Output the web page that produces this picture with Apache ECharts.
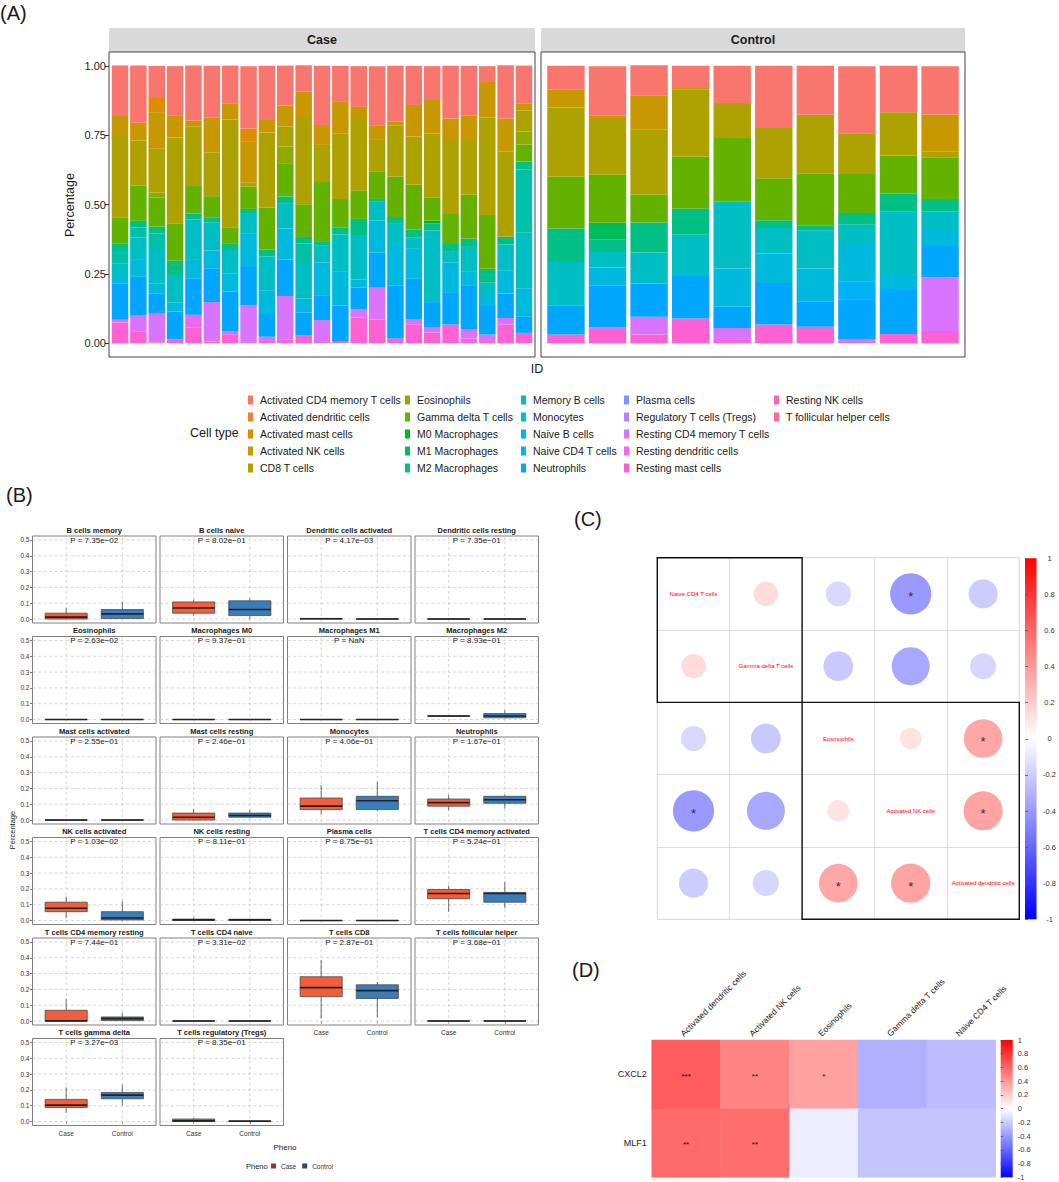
<!DOCTYPE html>
<html><head><meta charset="utf-8">
<script src="https://cdn.jsdelivr.net/npm/echarts@6/dist/echarts.min.js"></script>
<style>html,body{margin:0;padding:0;background:#fff}#c{width:1059px;height:1182px}</style>
</head><body><div id="c"></div>
<script>
// ================= DATA =================
// ---- Panel A: cell type fractions (23 Case samples then 10 Control samples) ----
const cellTypes = ['Activated CD4 memory T cells','Activated dendritic cells','Activated mast cells','Activated NK cells','CD8 T cells',
  'Eosinophils','Gamma delta T cells','M0 Macrophages','M1 Macrophages','M2 Macrophages',
  'Memory B cells','Monocytes','Naive B cells','Naive CD4 T cells','Neutrophils',
  'Plasma cells','Regulatory T cells (Tregs)','Resting CD4 memory T cells','Resting dendritic cells','Resting mast cells',
  'Resting NK cells','T follicular helper cells'];
const caseIds = ['S01','S02','S03','S04','S05','S06','S07','S08','S09','S10','S11','S12','S13','S14','S15','S16','S17','S18','S19','S20','S21','S22','S23'];
const ctrlIds = ['N01','N02','N03','N04','N05','N06','N07','N08','N09','N10'];
const actCD4 = [0.182,0.206,0.116,0.177,0.198,0.186,0.138,0.225,0.192,0.144,0.094,0.213,0.130,0.147,0.213,0.200,0.141,0.122,0.190,0.180,0.054,0.192,0.138, 0.084,0.177,0.108,0.080,0.134,0.224,0.176,0.242,0.167,0.174];
const actDC   = [0,0,0,0,0,0,0,0,0,0,0,0,0,0,0,0,0,0,0,0,0,0,0, 0,0,0,0,0,0,0,0,0,0];
const actMast = [0,0,0.051,0,0,0,0,0.048,0,0,0,0,0,0,0,0,0,0,0,0,0,0,0, 0,0,0,0,0,0,0,0,0,0];
const actNK  = [0.072,0.064,0.132,0.080,0.022,0.126,0.057,0.146,0.048,0.076,0.096,0.072,0.113,0.044,0.050,0.016,0.114,0.121,0.074,0.084,0.132,0.120,0.024, 0.066,0.014,0.124,0.004,0,0,0,0,0,0.135];
const cd8    = [0.293,0.162,0.158,0.311,0.214,0.158,0.388,0.016,0.272,0.072,0.311,0.134,0.237,0.258,0.116,0.183,0.173,0.230,0.267,0.201,0.351,0.306,0.076, 0.249,0.201,0.234,0.243,0.126,0.181,0.213,0.147,0.156,0.020];
const eos    = [0,0,0.018,0,0,0,0,0,0,0.060,0,0,0,0,0,0,0,0,0,0,0,0,0.047, 0,0,0,0,0,0,0,0,0,0];
const gdT    = [0.096,0.128,0.105,0.134,0.099,0.078,0.060,0.080,0.150,0.120,0.118,0.213,0.102,0.102,0.100,0.146,0.162,0.084,0.108,0.158,0.194,0,0.061, 0.188,0.173,0.101,0.188,0.228,0.152,0.186,0.141,0.138,0.150];
const m0     = [0,0,0,0,0,0,0,0,0,0,0,0,0,0,0,0,0,0.010,0,0,0,0,0, 0,0,0,0,0,0,0,0,0,0];
const m1     = [0,0,0,0,0,0,0,0,0,0,0,0,0,0,0,0,0,0,0,0,0,0,0, 0,0.061,0,0,0,0,0,0,0,0];
const m2     = [0.022,0.024,0.024,0.051,0.022,0.016,0.022,0.018,0.025,0.024,0.024,0.017,0.026,0.058,0.008,0.022,0.030,0.026,0.029,0.030,0.050,0.028,0.029, 0.120,0.044,0.108,0.094,0,0.028,0.018,0.042,0.065,0.044];
const memB   = [0.050,0.036,0.060,0,0,0,0,0,0,0,0.070,0,0,0,0,0,0,0,0,0,0,0,0.228, 0,0,0,0,0,0,0,0,0,0];
const mono   = [0.040,0.078,0.120,0.100,0.146,0.102,0.084,0.072,0.122,0.092,0.128,0.060,0.135,0.160,0.070,0.072,0.040,0.258,0.042,0.090,0.048,0.095,0.200, 0.156,0.056,0.112,0.149,0.243,0.092,0.138,0.066,0.225,0.064];
const naiveB = [0.030,0.064,0.038,0.032,0.066,0.066,0.066,0.116,0.086,0.112,0.050,0.118,0.122,0.030,0.116,0.152,0.108,0,0.106,0.048,0.036,0.082,0.103, 0,0.064,0,0,0.138,0.106,0.118,0.138,0.054,0.062];
const naiveCD4 = [0,0,0,0,0,0,0,0,0,0,0,0,0,0,0,0,0,0,0,0,0,0,0, 0,0,0,0,0,0,0,0.065,0,0];
const neut   = [0.132,0.138,0.072,0.100,0.132,0.120,0.144,0.141,0.082,0.131,0.082,0.090,0.130,0.078,0.126,0.192,0.147,0.090,0.117,0.158,0.103,0.088,0.058, 0.106,0.152,0.120,0.153,0.076,0.150,0.092,0.144,0.162,0.112];
const plasma = [0,0,0,0,0,0,0,0,0,0,0,0,0,0,0,0,0,0,0,0,0,0,0, 0,0,0,0,0,0,0,0,0,0];
const tregs  = [0,0,0,0,0,0,0,0,0,0,0,0,0,0,0,0,0,0,0,0,0,0,0, 0,0,0,0,0,0,0,0,0,0];
const restCD4 = [0.010,0.058,0.103,0,0,0.142,0.012,0.137,0.012,0.156,0,0.083,0,0.030,0.115,0,0.017,0.020,0,0.034,0.020,0.024,0, 0,0.010,0.064,0,0.044,0,0,0.014,0,0.194];
const restDC = [0,0,0,0,0.045,0,0,0,0,0,0,0,0,0,0,0,0,0,0,0,0,0,0, 0,0,0,0,0,0,0,0,0,0];
const restMast = [0.074,0.043,0,0.014,0.057,0,0.030,0,0.011,0.014,0.029,0,0,0.092,0.085,0.017,0.068,0.038,0.067,0.017,0.011,0.067,0.037, 0.031,0.047,0.031,0.089,0.011,0.067,0.059,0,0.033,0.044];
const restNK = [0,0,0,0,0,0,0,0,0,0,0,0,0,0,0,0,0,0,0,0,0,0,0, 0,0,0,0,0,0,0,0,0,0];
const tfh    = [0,0,0.003,0,0,0.006,0,0,0,0,0,0,0.005,0,0,0,0,0,0,0,0,0,0, 0,0,0,0,0,0,0,0,0,0];
const aValues = [actCD4,actDC,actMast,actNK,cd8,eos,gdT,m0,m1,m2,memB,mono,naiveB,naiveCD4,neut,plasma,tregs,restCD4,restDC,restMast,restNK,tfh];
const aYTicks = [0,0.25,0.5,0.75,1];

// ---- Panel B: boxplots [min, q1, median, q3, max] ----
const bNames = ['B cells memory','B cells naive','Dendritic cells activated','Dendritic cells resting',
  'Eosinophils','Macrophages M0','Macrophages M1','Macrophages M2',
  'Mast cells activated','Mast cells resting','Monocytes','Neutrophils',
  'NK cells activated','NK cells resting','Plasma cells','T cells CD4 memory activated',
  'T cells CD4 memory resting','T cells CD4 naive','T cells CD8','T cells follicular helper',
  'T cells gamma delta','T cells regulatory (Tregs)'];
const bPvals = ['7.35e\u221202','8.02e\u221201','4.17e\u221203','7.35e\u221201','2.63e\u221202','9.37e\u221201','NaN','8.93e\u221201',
  '2.55e\u221201','2.46e\u221201','4.06e\u221201','1.67e\u221201','1.03e\u221202','8.11e\u221201','8.75e\u221201','5.24e\u221201',
  '7.44e\u221201','3.31e\u221202','2.87e\u221201','3.68e\u221201','3.27e\u221203','8.35e\u221201'];
const caseBox = [[0,0,0.012,0.037,0.072],[0.022,0.037,0.070,0.108,0.123],[0,0,0.002,0.004,0.006],[0,0,0,0,0],
  [0,0,0,0,0],[0,0,0,0,0],[0,0,0,0,0],[0.020,0.021,0.022,0.023,0.024],
  [0,0,0,0,0],[0,0,0.018,0.044,0.069],[0.035,0.066,0.088,0.139,0.221],[0.062,0.088,0.110,0.133,0.160],
  [0.016,0.056,0.078,0.116,0.151],[0,0.001,0.004,0.009,0.020],[0,0,0,0,0],[0.056,0.138,0.171,0.196,0.222],
  [0,0,0.001,0.068,0.141],[0,0,0,0,0],[0.015,0.154,0.211,0.280,0.385],[0,0,0,0,0],
  [0.056,0.089,0.104,0.140,0.216],[0,0,0.004,0.016,0.022]];
const ctrlBox = [[0,0.003,0.033,0.060,0.108],[0,0.022,0.060,0.115,0.132],[0,0,0,0.001,0.002],[0,0,0,0,0],
  [0,0,0,0,0],[0,0,0,0,0],[0,0,0,0,0],[0.007,0.011,0.022,0.038,0.060],
  [0,0,0,0,0],[0.009,0.018,0.029,0.044,0.064],[0.058,0.066,0.122,0.150,0.243],[0.073,0.106,0.128,0.150,0.160],
  [0,0.004,0.016,0.056,0.122],[0,0.002,0.004,0.008,0.012],[0,0,0,0,0],[0.078,0.116,0.171,0.178,0.244],
  [0,0.003,0.015,0.026,0.053],[0,0,0,0,0],[0.022,0.143,0.192,0.229,0.247],[0,0,0,0,0],
  [0.104,0.144,0.167,0.184,0.233],[0,0,0.002,0.005,0.008]];
const bGroups = ['Case','Control'];
const bYTicks = [0,0.1,0.2,0.3,0.4,0.5];

// ---- Panel C: correlation matrix ----
const cNames = ['Naive CD4 T cells','Gamma delta T cells','Eosinophils','Activated NK cells','Activated dendritic cells'];
const cCorr = [[1,0.14,-0.15,-0.40,-0.20],[0.14,1,-0.21,-0.34,-0.16],[-0.15,-0.21,1,0.11,0.35],[-0.40,-0.34,0.11,1,0.36],[-0.20,-0.16,0.35,0.36,1]];
const cSig = [[0,0,0,1,0],[0,0,0,0,0],[0,0,0,0,1],[1,0,0,0,1],[0,0,1,1,0]];
const cClusters = [[0,0,1,1],[2,2,4,4]];

// ---- Panel D: gene–cell correlation heatmap ----
const dCols = ['Activated dendritic cells','Activated NK cells','Eosinophils','Gamma delta T cells','Naive CD4 T cells'];
const dRows = ['CXCL2','MLF1'];
const dVals = [[0.64,0.48,0.37,-0.31,-0.26],[0.58,0.57,-0.07,-0.23,-0.23]];
const dStars = [['***','**','*','',''],['**','**','','','']];

// ================= STYLE HELPERS =================
const FONT = 'Liberation Sans, Arial, Helvetica, sans-serif';
function hcl(h, c, l) {
  const hr = h * Math.PI / 180, U = c * Math.cos(hr), V = c * Math.sin(hr);
  const Xn = 95.047, Yn = 100, Zn = 108.883;
  const Y = Yn * (l > 8 ? Math.pow((l + 16) / 116, 3) : l / 903.3);
  const den = Xn + 15 * Yn + 3 * Zn, un = 4 * Xn / den, vn = 9 * Yn / den;
  const u = U / (13 * l) + un, v = V / (13 * l) + vn;
  const X = 9 * Y * u / (4 * v), Z = Y * (12 - 3 * u - 20 * v) / (4 * v);
  const x = X / 100, y = Y / 100, z = Z / 100;
  const rgb = [3.240479*x - 1.537150*y - 0.498535*z, -0.969256*x + 1.875992*y + 0.041556*z, 0.055648*x - 0.204043*y + 1.057311*z];
  return '#' + rgb.map(t => { t = t <= 0.0031308 ? 12.92 * t : 1.055 * Math.pow(t, 1 / 2.4) - 0.055; return Math.round(Math.max(0, Math.min(1, t)) * 255).toString(16).padStart(2, '0'); }).join('');
}
const nT = cellTypes.length;
const pal = cellTypes.map((_, i) => hcl(15 + i * 360 / nT, 100, 65));
const txt = (o) => Object.assign({fontFamily: FONT, fill: '#1a1a1a'}, o, {
  align: o.textAlign, verticalAlign: o.textVerticalAlign});

const option = {animation: false, textStyle: {fontFamily: FONT}, grid: [], xAxis: [], yAxis: [], series: [], legend: [], visualMap: [], graphic: []};
const G = option.graphic;

// ================= PANEL A =================
const aPanels = [{x: 109, w: 426, n: caseIds.length, ids: caseIds, title: 'Case'}, {x: 541, w: 424, n: ctrlIds.length, ids: ctrlIds, title: 'Control'}];
const aTop = 52, aH = 305;
aPanels.forEach((p, k) => {
  const inset = 0.1 * p.w / (p.n + 0.2);
  option.grid.push({left: p.x + inset, top: aTop, width: p.w - 2 * inset, height: aH, show: false});
  option.xAxis.push({type: 'category', gridIndex: k, data: p.ids, axisLabel: {show: false}, axisTick: {show: false}, axisLine: {show: false}});
  option.yAxis.push({type: 'value', gridIndex: k, min: -0.05, max: 1.05, offset: inset, show: k === 0,
    axisLine: {show: false}, splitLine: {show: false},
    axisTick: {show: true, customValues: aYTicks, length: 4, lineStyle: {color: '#333', width: 1}},
    axisLabel: {customValues: aYTicks, formatter: v => v.toFixed(2), fontSize: 11, color: '#222', margin: 3}});
  G.push({type: 'rect', shape: {x: p.x, y: 28, width: p.w, height: 24}, style: {fill: '#D9D9D9'}, silent: true});
  G.push({type: 'text', style: txt({text: p.title, x: p.x + p.w / 2, y: 40, fontSize: 12.5, fontWeight: 'bold', textAlign: 'center', textVerticalAlign: 'middle'})});
  G.push({type: 'rect', shape: {x: p.x, y: aTop, width: p.w, height: aH}, style: {fill: 'none', stroke: '#444', lineWidth: 1}, z: 10, silent: true});
});
for (let t = nT - 1; t >= 0; t--) {
  option.series.push({type: 'bar', name: cellTypes[t], xAxisIndex: 0, yAxisIndex: 0, stack: 'case', barCategoryGap: '10%', silent: true,
    data: aValues[t].slice(0, caseIds.length), itemStyle: {color: pal[t]}});
  option.series.push({type: 'bar', name: cellTypes[t], xAxisIndex: 1, yAxisIndex: 1, stack: 'ctrl', barCategoryGap: '10%', silent: true,
    data: aValues[t].slice(caseIds.length), itemStyle: {color: pal[t]}});
}
G.push({type: 'text', style: txt({text: '(A)', x: 0, y: 3, fontSize: 20, textAlign: 'left', textVerticalAlign: 'top'})});
G.push({type: 'text', x: 70, y: 205, rotation: Math.PI / 2, style: txt({text: 'Percentage', x: 0, y: 0, fontSize: 12.5, textAlign: 'center', textVerticalAlign: 'middle'})});
G.push({type: 'text', style: txt({text: 'ID', x: 537, y: 369, fontSize: 12.5, textAlign: 'center', textVerticalAlign: 'middle'})});
G.push({type: 'text', style: txt({text: 'Cell type', x: 190, y: 433, fontSize: 12.5, textAlign: 'left', textVerticalAlign: 'middle'})});
const legCols = [[0, 5], [5, 10], [10, 15], [15, 20], [20, 22]];
const legLeft = [248, 405, 521, 624, 774];
legCols.forEach((r, k) => option.legend.push({orient: 'vertical', left: legLeft[k], top: 394.5, padding: 0, itemWidth: 5, itemHeight: 9, itemGap: 6,
  icon: 'rect', selectedMode: false, data: cellTypes.slice(r[0], r[1]),
  textStyle: {fontSize: 10.5, lineHeight: 10.5, color: '#1a1a1a', fontFamily: FONT, padding: [0, 0, 0, 2]}}));

// ================= PANEL B =================
const bColX = [32.5, 160, 287.5, 415], bW = 123.5, bTop0 = 536, bPitch = 100.5, bH = 87;
const boxColors = ['#F25E3C', '#3B7CBB'];
const nB = bNames.length;
bNames.forEach((nm, i) => {
  const r = Math.floor(i / 4), c = i % 4, gi = option.grid.length;
  const showX = (i + 4 >= nB), showY = (c === 0);
  option.grid.push({left: bColX[c], top: bTop0 + r * bPitch, width: bW, height: bH, show: true, borderColor: '#808080', borderWidth: 1, backgroundColor: 'transparent'});
  option.xAxis.push({type: 'value', gridIndex: gi, min: 0.4, max: 2.6, axisLine: {show: false}, splitLine: {show: false},
    axisTick: {show: showX, customValues: [1, 2], length: 2.5, lineStyle: {color: '#555', width: 0.8}},
    axisLabel: {show: showX, customValues: [1, 2], formatter: v => bGroups[Math.round(v) - 1], fontSize: 6.5, color: '#333', margin: 4}});
  option.yAxis.push({type: 'value', gridIndex: gi, min: -0.025, max: 0.525, axisLine: {show: false}, splitLine: {show: false},
    axisTick: {show: showY, customValues: bYTicks, length: 2.5, lineStyle: {color: '#555', width: 0.8}},
    axisLabel: {show: showY, customValues: bYTicks, formatter: v => v.toFixed(1), fontSize: 6.5, color: '#333', margin: 3}});
  option.series.push({type: 'custom', xAxisIndex: gi, yAxisIndex: gi, silent: true, z: 1,
    data: bYTicks.map(v => [0, v]).concat([[1, 1], [1, 2]]),
    renderItem: (params, api) => {
      const cs = params.coordSys, kind = api.value(0), v = api.value(1);
      const st = {stroke: '#C4C4C4', lineWidth: 0.7, lineDash: [3, 2.5]};
      if (kind === 0) { const y = api.coord([1, v])[1]; return {type: 'line', shape: {x1: cs.x, y1: y, x2: cs.x + cs.width, y2: y}, style: st}; }
      const x = api.coord([v, 0])[0]; return {type: 'line', shape: {x1: x, y1: cs.y, x2: x, y2: cs.y + cs.height}, style: st};
    }});
  [caseBox[i], ctrlBox[i]].forEach((bx, g) => {
    option.series.push({type: 'custom', name: bGroups[g], xAxisIndex: gi, yAxisIndex: gi, silent: true, z: 3,
      itemStyle: {color: boxColors[g]},
      data: [[g + 1].concat(bx)],
      renderItem: (params, api) => {
        const x = api.value(0), hw = 0.375;
        const pMin = api.coord([x, api.value(1)]), pQ1 = api.coord([x, api.value(2)]), pMed = api.coord([x, api.value(3)]);
        const pQ3 = api.coord([x, api.value(4)]), pMax = api.coord([x, api.value(5)]);
        const xl = api.coord([x - hw, 0])[0], xr = api.coord([x + hw, 0])[0];
        const ws = {stroke: '#4a4a4a', lineWidth: 0.8};
        return {type: 'group', children: [
          {type: 'line', shape: {x1: pMax[0], y1: pMax[1], x2: pQ3[0], y2: pQ3[1]}, style: ws},
          {type: 'line', shape: {x1: pMin[0], y1: pMin[1], x2: pQ1[0], y2: pQ1[1]}, style: ws},
          {type: 'rect', shape: {x: xl, y: pQ3[1], width: xr - xl, height: pQ1[1] - pQ3[1]}, style: {fill: boxColors[g], stroke: '#4a4a4a', lineWidth: 0.8}},
          {type: 'line', shape: {x1: xl, y1: pMed[1], x2: xr, y2: pMed[1]}, style: {stroke: '#222', lineWidth: 1.6}}
        ]};
      }});
  });
  option.series.push({type: 'custom', xAxisIndex: gi, yAxisIndex: gi, silent: true, z: 4, data: [[1.5, 0.5]],
    renderItem: (params, api) => {
      const cs = params.coordSys, p = api.coord([api.value(0), api.value(1)]);
      return {type: 'group', children: [
        {type: 'text', style: txt({text: nm, x: cs.x + cs.width / 2, y: cs.y - 6, fontSize: 7.5, fontWeight: 'bold', textAlign: 'center', textVerticalAlign: 'middle'})},
        {type: 'text', style: txt({text: 'P = ' + bPvals[i], x: p[0], y: p[1] + 0.5, fontSize: 8, textAlign: 'center', textVerticalAlign: 'middle'})}
      ]};
    }});
});
G.push({type: 'text', style: txt({text: '(B)', x: 6, y: 485, fontSize: 20, textAlign: 'left', textVerticalAlign: 'top'})});
G.push({type: 'text', x: 12, y: 830, rotation: Math.PI / 2, style: txt({text: 'Percentage', x: 0, y: 0, fontSize: 7.5, textAlign: 'center', textVerticalAlign: 'middle'})});
G.push({type: 'text', style: txt({text: 'Pheno', x: 285, y: 1147, fontSize: 8, textAlign: 'center', textVerticalAlign: 'middle'})});
G.push({type: 'text', style: txt({text: 'Pheno', x: 246, y: 1166, fontSize: 7.5, textAlign: 'left', textVerticalAlign: 'middle'})});
option.legend.push({orient: 'horizontal', left: 271, top: 1162, padding: 0, itemWidth: 5, itemHeight: 5, itemGap: 6, icon: 'rect', selectedMode: false,
  data: [{name: 'Case', itemStyle: {color: '#8E3B2E'}}, {name: 'Control', itemStyle: {color: '#2F4A66'}}],
  textStyle: {fontSize: 6.5, lineHeight: 8, color: '#333', fontFamily: FONT}});

// ================= PANEL C =================
const gC = option.grid.length;
option.grid.push({left: 657.3, top: 557.7, width: 362, height: 361.6, show: true, borderColor: '#DDDDDD', borderWidth: 1});
option.xAxis.push({type: 'category', gridIndex: gC, data: cNames, axisLabel: {show: false}, axisTick: {show: false}, axisLine: {show: false},
  splitLine: {show: true, interval: 0, lineStyle: {color: '#DDDDDD', width: 1}}});
option.yAxis.push({type: 'category', gridIndex: gC, data: cNames, inverse: true, axisLabel: {show: false}, axisTick: {show: false}, axisLine: {show: false},
  splitLine: {show: true, interval: 0, lineStyle: {color: '#DDDDDD', width: 1}}});
const circleData = [];
cCorr.forEach((row, i) => row.forEach((v, j) => { if (i !== j) circleData.push([j, i, v, cSig[i][j]]); }));
const circleIdx = option.series.length;
option.series.push({type: 'custom', xAxisIndex: gC, yAxisIndex: gC, silent: true, z: 3, data: circleData,
  renderItem: (params, api) => {
    const c = api.coord([api.value(0), api.value(1)]), s = api.size([1, 1]);
    const rad = 0.45 * Math.sqrt(Math.abs(api.value(2))) * s[0];
    const ch = [{type: 'circle', shape: {cx: c[0], cy: c[1], r: rad}, style: {fill: api.visual('color')}}];
    if (api.value(3)) ch.push({type: 'text', style: txt({text: '*', x: c[0], y: c[1] + 3, fontSize: 13, fill: '#333', textAlign: 'center', textVerticalAlign: 'middle'})});
    return {type: 'group', children: ch};
  }});
option.series.push({type: 'custom', xAxisIndex: gC, yAxisIndex: gC, silent: true, z: 3, data: cNames.map((_, i) => [i, i]),
  renderItem: (params, api) => {
    const c = api.coord([api.value(0), api.value(1)]);
    return {type: 'text', style: txt({text: cNames[params.dataIndex], x: c[0], y: c[1], fontSize: 6, fill: '#FF0000', textAlign: 'center', textVerticalAlign: 'middle'})};
  }});
option.series.push({type: 'custom', xAxisIndex: gC, yAxisIndex: gC, silent: true, z: 5, data: cClusters,
  renderItem: (params, api) => {
    const a = api.coord([api.value(0), api.value(1)]), b = api.coord([api.value(2), api.value(3)]), s = api.size([1, 1]);
    return {type: 'rect', shape: {x: a[0] - s[0] / 2, y: a[1] - s[1] / 2, width: b[0] - a[0] + s[0], height: b[1] - a[1] + s[1]}, style: {fill: 'none', stroke: '#111', lineWidth: 1.4}};
  }});
option.visualMap.push({type: 'continuous', show: false, min: -1, max: 1, dimension: 2, seriesIndex: circleIdx, inRange: {color: ['#0000FF', '#FFFFFF', '#FF0000']}});
const gCb = option.grid.length;
const grad = () => new echarts.graphic.LinearGradient(0, 0, 0, 1, [{offset: 0, color: '#FF0000'}, {offset: 0.5, color: '#FFFFFF'}, {offset: 1, color: '#0000FF'}]);
option.grid.push({left: 1025, top: 558.3, width: 12, height: 361, show: true, backgroundColor: grad(), borderWidth: 0, borderColor: 'transparent'});
option.xAxis.push({type: 'value', gridIndex: gCb, show: false, min: 0, max: 1});
option.yAxis.push({type: 'value', gridIndex: gCb, position: 'right', min: -1, max: 1, interval: 0.2, axisLine: {show: false}, splitLine: {show: false},
  axisTick: {show: true, length: 3, lineStyle: {color: '#555', width: 0.8}},
  axisLabel: {fontSize: 7.5, color: '#333', align: 'center', margin: 13, formatter: v => String(Math.round(v * 10) / 10)}});
G.push({type: 'text', style: txt({text: '(C)', x: 574, y: 509, fontSize: 20, textAlign: 'left', textVerticalAlign: 'top'})});

// ================= PANEL D =================
const gD = option.grid.length;
option.grid.push({left: 651.7, top: 1040, width: 344, height: 137.3, show: false});
option.xAxis.push({type: 'category', gridIndex: gD, position: 'top', data: dCols, axisTick: {show: false}, axisLine: {show: false}, axisLabel: {show: false}});
option.yAxis.push({type: 'category', gridIndex: gD, data: dRows, inverse: true, axisTick: {show: false}, axisLine: {show: false},
  axisLabel: {fontSize: 9, color: '#222', margin: 5}});
const heatData = [];
dVals.forEach((row, i) => row.forEach((v, j) => heatData.push([j, i, v])));
const heatIdx = option.series.length;
option.series.push({type: 'heatmap', xAxisIndex: gD, yAxisIndex: gD, silent: true, data: heatData,
  label: {show: true, formatter: p => dStars[p.value[1]][p.value[0]], fontSize: 8, color: '#111', offset: [0, 2]}});
option.visualMap.push({type: 'continuous', show: false, min: -1, max: 1, dimension: 2, seriesIndex: heatIdx, inRange: {color: ['#0000FF', '#FFFFFF', '#FF0000']}});
option.series.push({type: 'custom', xAxisIndex: gD, yAxisIndex: gD, silent: true, z: 4, data: dCols.map((_, j) => [j, 0]),
  renderItem: (params, api) => {
    const c = api.coord([api.value(0), api.value(1)]), s = api.size([1, 1]);
    return {type: 'text', x: c[0] - 1, y: c[1] - s[1] / 2 - 2, rotation: Math.PI / 4,
      style: txt({text: dCols[params.dataIndex], x: 0, y: 0, fontSize: 8.5, fill: '#222', textAlign: 'left', textVerticalAlign: 'bottom'})};
  }});
const gDb = option.grid.length;
option.grid.push({left: 1000.7, top: 1040, width: 12, height: 137.3, show: true, backgroundColor: grad(), borderWidth: 0, borderColor: 'transparent'});
option.xAxis.push({type: 'value', gridIndex: gDb, show: false, min: 0, max: 1});
option.yAxis.push({type: 'value', gridIndex: gDb, position: 'right', min: -1, max: 1, interval: 0.2, axisLine: {show: false}, splitLine: {show: false},
  axisTick: {show: true, length: 2.5, lineStyle: {color: '#555', width: 0.8}},
  axisLabel: {fontSize: 7.5, color: '#333', margin: 5, formatter: v => String(Math.round(v * 10) / 10)}});
G.push({type: 'text', style: txt({text: '(D)', x: 572, y: 960, fontSize: 20, textAlign: 'left', textVerticalAlign: 'top'})});

const chart = echarts.init(document.getElementById('c'), null, {renderer: 'svg', width: 1059, height: 1182});
chart.setOption(option);
</script></body></html>
